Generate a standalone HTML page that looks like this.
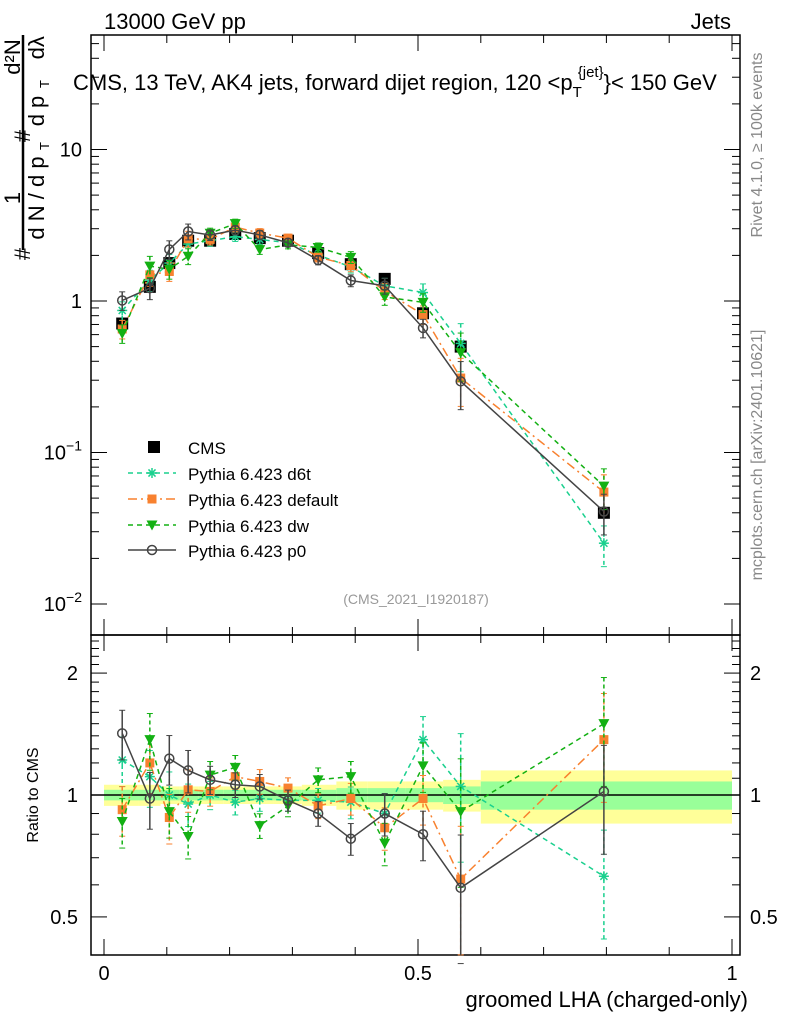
<!DOCTYPE html>
<html><head><meta charset="utf-8"><style>
body{margin:0;background:#fff}
svg{display:block;font-family:"Liberation Sans",sans-serif}
</style></head><body>
<svg id="c" width="786" height="1024" viewBox="0 0 786 1024" xmlns="http://www.w3.org/2000/svg"></svg>
<script>
const xs=[0.029,0.073,0.104,0.134,0.169,0.209,0.248,0.293,0.341,0.393,0.447,0.508,0.568,0.796];
const cms=[0.71,1.24,1.78,2.5,2.5,2.77,2.6,2.5,2.07,1.75,1.40,0.83,0.50,0.040];
const binEdges=[0,0.055,0.09,0.12,0.15,0.19,0.23,0.27,0.315,0.37,0.42,0.48,0.54,0.6,1.0];
const bandYellow=[0.06,0.06,0.05,0.05,0.05,0.05,0.05,0.05,0.06,0.08,0.08,0.08,0.09,0.15];
const bandGreen=[0.03,0.03,0.03,0.03,0.03,0.03,0.03,0.03,0.03,0.04,0.04,0.04,0.05,0.08];
const rD6t=[1.22,1.11,1.0,0.95,1.0,0.96,0.98,0.97,0.97,0.96,0.90,1.37,1.05,0.63];
const rDef=[0.92,1.20,0.88,1.03,1.02,1.11,1.08,1.04,0.94,0.98,0.83,0.98,0.62,1.37];
const rDw=[0.86,1.37,0.91,0.79,1.12,1.17,0.84,0.94,1.09,1.11,0.76,1.18,0.91,1.50];
const rP0=[1.42,0.98,1.23,1.15,1.09,1.06,1.05,0.97,0.90,0.78,0.90,0.80,0.59,1.02];
const eRel=[0.14,0.16,0.14,0.12,0.08,0.07,0.07,0.06,0.07,0.09,0.12,0.14,0.35,0.3];
const yTicksMain=[10,1,0.1,0.01];
const xTickLabels=["0","0.5","1"];
const NS="http://www.w3.org/2000/svg";
const svg=document.getElementById('c');
const L=91,R=740,T=35,MB=635,RB=955;
const X=v=>104+628*v;
const Y=v=>301-151.5*Math.log10(v);
const YR=v=>795-405*Math.log10(v);
function mk(t,a,p){const e=document.createElementNS(NS,t);for(const k in a)e.setAttribute(k,a[k]);(p||svg).appendChild(e);return e;}
// ratio bands
binEdges.slice(0,-1).forEach((b,i)=>{
 const r1=mk('rect',{x:X(b),y:YR(1+bandYellow[i]),width:X(binEdges[i+1])-X(b),height:YR(1-bandYellow[i])-YR(1+bandYellow[i]),fill:'#ffff99'});
 
 
 const r2=mk('rect',{x:X(b),y:YR(1+bandGreen[i]),width:X(binEdges[i+1])-X(b),height:YR(1-bandGreen[i])-YR(1+bandGreen[i]),fill:'#99ff99'});
 
 
});
mk('line',{x1:L,x2:R,y1:YR(1),y2:YR(1),stroke:'#000','stroke-width':1.5});
// frames
mk('rect',{x:L,y:T,width:R-L,height:MB-T,fill:'none',stroke:'#000','stroke-width':1.5});
mk('rect',{x:L,y:MB,width:R-L,height:RB-MB,fill:'none',stroke:'#000','stroke-width':1.5});
// x ticks
for(let i=0;i<=10;i++){const v=i/10,len=(i%5==0)?16:8,x=X(v);
 mk('line',{x1:x,x2:x,y1:RB,y2:RB-len,stroke:'#000'});mk('line',{x1:x,x2:x,y1:MB,y2:MB+len,stroke:'#000'});
 mk('line',{x1:x,x2:x,y1:MB,y2:MB-len,stroke:'#000'});mk('line',{x1:x,x2:x,y1:T,y2:T+len,stroke:'#000'});}
xTickLabels.forEach((s,i)=>{const t=mk('text',{x:X(i*0.5),y:980,'font-size':20,'text-anchor':'middle'});t.textContent=s;
 
 });
// y ticks main (log)
for(let d=-2;d<=1;d++)for(let m=1;m<10;m++){const v=m*Math.pow(10,d);const y=Y(v);if(y<T||y>MB)continue;const len=m==1?16:8;
 mk('line',{x1:L,x2:L+len,y1:y,y2:y,stroke:'#000'});mk('line',{x1:R,x2:R-len,y1:y,y2:y,stroke:'#000'});}
yTicksMain.forEach(v=>{const t=mk('text',{x:82,y:Y(v)+7,'font-size':20,'text-anchor':'end'});
 
 
 if(v==10)t.textContent='10';else if(v==1)t.textContent='1';else{const e=Math.round(Math.log10(v));t.textContent='10';const s=mk('tspan',{dy:-9,'font-size':14},t);s.textContent='\u2212'+(-e);}});
// ratio ticks
for(let v=0.4;v<=2.45;v+=0.1){const y=YR(v);if(y<MB||y>RB)continue;const maj=Math.abs(v-0.5)<1e-6||Math.abs(v-1)<1e-6||Math.abs(v-2)<1e-6;const len=maj?16:8;
 mk('line',{x1:L,x2:L+len,y1:y,y2:y,stroke:'#000'});mk('line',{x1:R,x2:R-len,y1:y,y2:y,stroke:'#000'});}
[["2",2],["1",1],["0.5",0.5]].forEach(([s,v])=>{const a=mk('text',{x:78,y:YR(v)+7,'font-size':20,'text-anchor':'end'});a.textContent=s;
 
 
 const b=mk('text',{x:750,y:YR(v)+7,'font-size':20});b.textContent=s;
 
 });
// series
const series=[
 {name:'d6t',r:rD6t,c:'#1ad08e',dash:'5,4',m:'star'},
 {name:'default',r:rDef,c:'#f8812f',dash:'9,4,2,4',m:'sq'},
 {name:'dw',r:rDw,c:'#13b013',dash:'5,4',m:'tri'},
 {name:'p0',r:rP0,c:'#444',dash:'',m:'circ'}];
function marker(m,x,y,c,g){
 if(m=='sq')mk('rect',{x:x-4.5,y:y-4.5,width:9,height:9,fill:c},g);
 else if(m=='tri')mk('path',{d:`M${x-5.5} ${y-4.5}L${x+5.5} ${y-4.5}L${x} ${y+5.5}Z`,fill:c},g);
 else if(m=='circ')mk('circle',{cx:x,cy:y,r:4.5,fill:'none',stroke:c,'stroke-width':1.5},g);
 else if(m=='star'){for(let k=0;k<4;k++){const a=k*Math.PI/4;mk('line',{x1:x-5*Math.cos(a),y1:y-5*Math.sin(a),x2:x+5*Math.cos(a),y2:y+5*Math.sin(a),stroke:c,'stroke-width':1.5},g);}}
 else if(m=='bsq')mk('rect',{x:x-6,y:y-6,width:12,height:12,fill:c},g);
}
// CMS top
const gc=mk('g',{});


xs.forEach((x,i)=>marker('bsq',X(x),Y(cms[i]),'#000',gc));
series.forEach(s=>{
 const g=mk('g',{});
 
 
 const top=xs.map((x,i)=>[X(x),Y(cms[i]*s.r[i])]);
 const rat=xs.map((x,i)=>[X(x),YR(s.r[i])]);
 [top,rat].forEach((pts,pi)=>{
  mk('polyline',{points:pts.map(p=>p.join(',')).join(' '),fill:'none',stroke:s.c,'stroke-width':1.5,'stroke-dasharray':s.dash},g);
  xs.forEach((x,i)=>{const v=pi==0?cms[i]*s.r[i]:s.r[i];const f=pi==0?Y:YR;
   const y1=f(v*(1+eRel[i])),y2=f(Math.max(v*(1-eRel[i]),0.01));const px=X(x);
   mk('line',{x1:px,x2:px,y1:y1,y2:Math.min(y2,pi==0?MB:RB),stroke:s.c,'stroke-width':1.5,'stroke-dasharray':s.dash?'4,3':''},g);
   mk('line',{x1:px-3,x2:px+3,y1:y1,y2:y1,stroke:s.c},g);mk('line',{x1:px-3,x2:px+3,y1:y2,y2:y2,stroke:s.c},g);
   marker(s.m,px,pts[i][1],s.c,g);});
 });
});
// texts
function txt(s,a,name){const t=mk('text',a);t.textContent=s;return t;}
txt('13000 GeV pp',{x:104,y:29,'font-size':22},'header-left');
txt('Jets',{x:731,y:29,'font-size':22,'text-anchor':'end'},'header-right');
const ti=txt('CMS, 13 TeV, AK4 jets, forward dijet region, 120 <p',{x:73,y:90,'font-size':22},'plot-title');
const s1=mk('tspan',{dy:7,'font-size':15},ti);s1.textContent='T';
const s2=mk('tspan',{dy:-20,dx:-4,'font-size':15},ti);s2.textContent='{jet}';
const s3=mk('tspan',{dy:13,'font-size':22},ti);s3.textContent='}< 150 GeV';
txt('(CMS_2021_I1920187)',{x:416,y:604,'font-size':14,fill:'#999','text-anchor':'middle'},'analysis-id');
txt('groomed LHA (charged-only)',{x:748,y:1007,'font-size':22,'text-anchor':'end'},'x-axis-title');
txt('Ratio to CMS',{x:0,y:0,'font-size':16,'text-anchor':'middle',transform:'translate(38,795) rotate(-90)'},'ratio-axis-title');
txt('Rivet 4.1.0, \u2265 100k events',{x:0,y:0,'font-size':16,fill:'#888','text-anchor':'middle',transform:'translate(762,145) rotate(-90)'},'rivet-version');
txt('mcplots.cern.ch [arXiv:2401.10621]',{x:0,y:0,'font-size':16,fill:'#888','text-anchor':'middle',transform:'translate(762,455) rotate(-90)'},'mcplots-credit');
// y axis title pieces
const yg=mk('g',{});
function yt(s,x,y,fs){const t=mk('text',{x:0,y:0,'font-size':fs,'text-anchor':'middle',transform:`translate(${x},${y}) rotate(-90)`},yg);t.textContent=s;return t;}
mk('line',{x1:23,x2:23,y1:35,y2:250,stroke:'#000','stroke-width':2.5},yg);
yt('d\u00b2N',20,57,22);
yt('\u2009d\u03bb',44,50,22);yt('d p',44,111,22);yt('T',49,84,13);
yt('#',30,136,22);
yt('1',20,198,22);
yt('d N / d p',44,198,22);yt('T',49,146,13);
yt('#',30,254,22);
// legend
const lg=mk('g',{});
const ly=[447,473,499,525,550];
marker('bsq',154,ly[0],'#000',lg);
const lt0=mk('text',{x:188,y:ly[0]+7,'font-size':17},lg);lt0.textContent='CMS';
series.forEach((s,i)=>{const y=ly[i+1];
 mk('line',{x1:128,x2:176,y1:y,y2:y,stroke:s.c,'stroke-width':1.5,'stroke-dasharray':s.dash},lg);
 marker(s.m,152,y,s.c,lg);
 const t=mk('text',{x:188,y:y+7,'font-size':17},lg);t.textContent='Pythia 6.423 '+s.name;
 
 });
</script>
</body></html>
